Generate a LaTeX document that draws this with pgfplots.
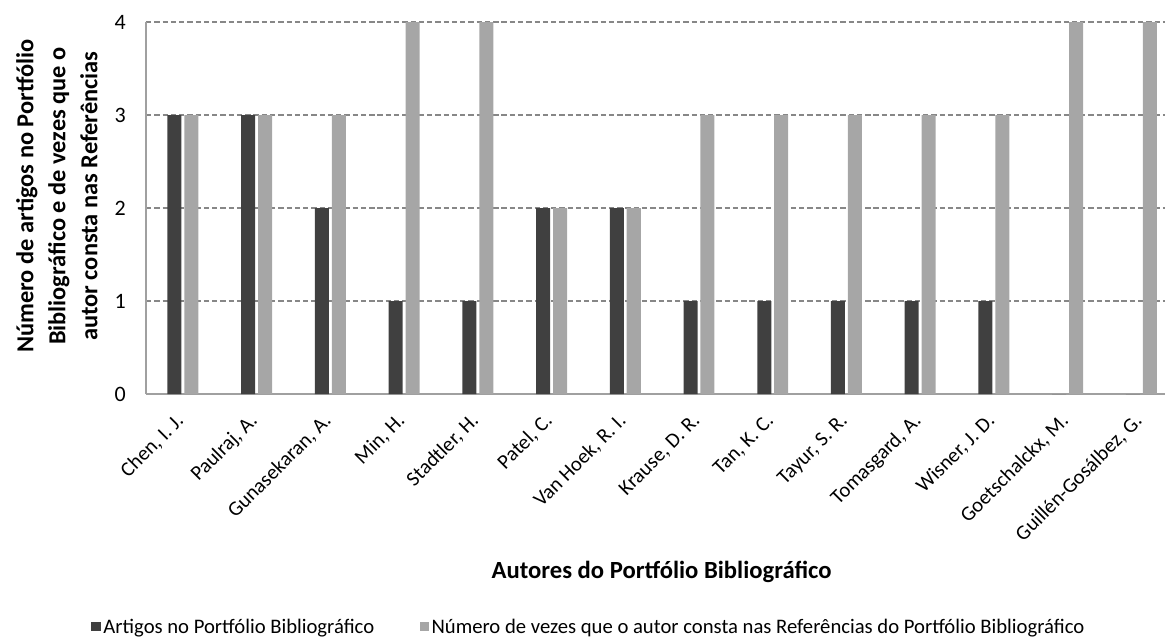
\documentclass[border=0pt]{standalone}
\usepackage{fontspec}
\setmainfont{Carlito}
\usepackage{pgfplots}
\pgfplotsset{compat=1.18}
\definecolor{darkbar}{HTML}{404040}
\definecolor{lightbar}{HTML}{A6A6A6}
\definecolor{gridc}{HTML}{878787}
\definecolor{axisc}{HTML}{A0A0A0}
\begin{document}
\begin{tikzpicture}
\begin{axis}[
  name=ax,
  scale only axis,
  width=764.25pt, height=279pt,
  xmin=-0.5, xmax=13.32,
  ymin=0, ymax=4,
  ytick={0,1,2,3,4},
  xtick={0,...,13},
  xticklabels={{Chen, I. J.},{Paulraj, A.},{Gunasekaran, A.},{Min, H.},{Stadtler, H.},{Patel, C.},{Van Hoek, R. I.},{Krause, D. R.},{Tan, K. C.},{Tayur, S. R.},{Tomasgard, A.},{Wisner, J. D.},{Goetschalckx, M.},{Guillén-Gosálbez, G.}},
  x tick label style={xshift=1.5pt, yshift=-21pt, anchor=base east, rotate=45, font=\fontsize{15.5}{17}\selectfont, inner sep=0pt},
  y tick label style={font=\fontsize{16.5}{18}\selectfont, anchor=east, inner sep=0pt, xshift=-15pt},
  /pgf/number format/assume math mode=true,
  major tick length=0pt,
  axis x line*=bottom, axis y line*=left,
  axis line style={axisc, line width=0.8pt, -},
  ymajorgrids,
  grid style={gridc, line width=0.9pt, dash pattern=on 4pt off 2.2pt},
  ylabel={Número de artigos no Portfólio\\Bibliográfico e de vezes que o\\autor consta nas Referências},
  ylabel style={font=\bfseries\fontsize{18.3}{24}\selectfont, align=center, at={(axis description cs:-0.0875,0.532)}, anchor=center},
  xlabel={Autores do Portfólio Bibliográfico},
  xlabel style={font=\bfseries\fontsize{18.5}{20}\selectfont, at={(axis description cs:0.506,-0.478)}, anchor=center},
  legend style={draw=none, fill=none, at={(axis description cs:0.435,-0.626)}, anchor=center, legend columns=2, font=\fontsize{15.5}{17}\selectfont, inner sep=0pt, /tikz/every even column/.append style={column sep=32pt}},
  legend image code/.code={\fill[#1] (0pt,-3.2pt) rectangle (7pt,3.8pt);},
  every axis plot/.append style={ybar, bar width=0.19, draw=none},
  clip=false,
]
\addplot[fill=darkbar, bar shift=-0.115] coordinates {(0,3)(1,3)(2,2)(3,1)(4,1)(5,2)(6,2)(7,1)(8,1)(9,1)(10,1)(11,1)(12,0)(13,0)};
\addplot[fill=lightbar, bar shift=0.115] coordinates {(0,3)(1,3)(2,3)(3,4)(4,4)(5,2)(6,2)(7,3)(8,3)(9,3)(10,3)(11,3)(12,4)(13,4)};
\legend{Artigos no Portfólio Bibliográfico, Número de vezes que o autor consta nas Referências do Portfólio Bibliográfico}
\end{axis}
\pgfresetboundingbox
\path[use as bounding box] (ax.south west) ++(-109.5pt,-183.75pt) rectangle ++(873.75pt,479.25pt);
\end{tikzpicture}
\end{document}
